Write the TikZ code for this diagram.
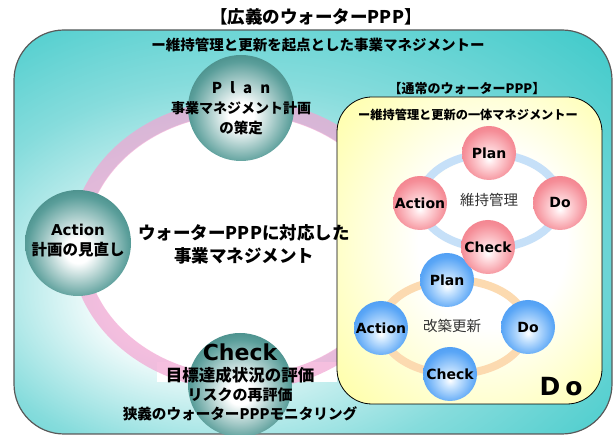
\documentclass[tikz,border=0pt]{standalone}
\usepackage{fontspec}
\setmainfont{Noto Sans CJK JP}
\newfontfamily\lat{DejaVu Sans}
\newcommand\myfs[1]{\fontsize{#1}{#1}\selectfont}
\definecolor{tealbox}{HTML}{38C8C8}
\definecolor{tealmidbg}{HTML}{86DCDC}
\definecolor{tealmid}{HTML}{5A9E9A}
\definecolor{tealdark}{HTML}{18625D}
\definecolor{pinkring}{HTML}{F2A4D2}
\definecolor{ylw}{HTML}{FFFF90}
\definecolor{redA}{HTML}{FFE0E3}
\definecolor{redB}{HTML}{F58E98}
\definecolor{redC}{HTML}{EC5868}
\definecolor{bluA}{HTML}{D0E8FF}
\definecolor{bluB}{HTML}{5AA6F6}
\definecolor{bluC}{HTML}{2680EC}
\definecolor{bluering}{HTML}{C6E0F8}
\definecolor{orangering}{HTML}{FCDAB0}
\pgfdeclareradialshading{outerbg}{\pgfpoint{-12bp}{-10bp}}{color(0bp)=(white); color(6bp)=(white); color(24bp)=(tealmidbg); color(40bp)=(tealbox); color(50bp)=(tealbox)}
\pgfdeclareradialshading{tealball}{\pgfpoint{0bp}{-4bp}}{color(0bp)=(white); color(6bp)=(white); color(24bp)=(tealmid); color(40bp)=(tealdark); color(50bp)=(tealdark)}
\pgfdeclareradialshading{redball}{\pgfpoint{0bp}{-6bp}}{color(0bp)=(white); color(6bp)=(redA); color(24bp)=(redB); color(48bp)=(redC); color(50bp)=(redC)}
\pgfdeclareradialshading{blueball}{\pgfpoint{0bp}{-6bp}}{color(0bp)=(white); color(6bp)=(bluA); color(24bp)=(bluB); color(48bp)=(bluC); color(50bp)=(bluC)}
\pgfdeclareradialshading{ybg}{\pgfpoint{6bp}{2bp}}{color(0bp)=(white); color(14bp)=(white); color(42bp)=(ylw); color(50bp)=(ylw)}
\begin{document}
\begin{tikzpicture}[x=1pt,y=-1pt,
  txt/.style={inner sep=0pt, align=center, text=black},
  tealballst/.style={circle, minimum size=106pt, inner sep=0pt, shading=tealball},
  redballst/.style={circle, minimum size=54pt, inner sep=0pt, shading=redball, font=\lat\bfseries\myfs{14}},
  blueballst/.style={circle, minimum size=54pt, inner sep=0pt, shading=blueball, font=\lat\bfseries\myfs{14}},
  ringtxt/.style={inner sep=0pt, text=black!80, font=\myfs{14.5}}]
\useasboundingbox (0,0) rectangle (614,435);
% outer box
\shadedraw[draw=black!65, line width=1.2pt, shading=outerbg, rounded corners=50pt] (14,30) rectangle (612,434);
% white text background and ring
\fill[white] (157,362) rectangle (337,382);
\fill[white] (241,245) ellipse [x radius=156, y radius=131];
\draw[pinkring, line width=15pt, draw opacity=0.7] (241,245) ellipse [x radius=163, y radius=138];
% big balls
\node[tealballst] (bplan) at (241,108) {};
\node[tealballst] (bact) at (78,243) {};
\node[tealballst, minimum size=104pt] (bchk) at (240,385) {};
\node[txt, font=\bfseries\myfs{15}] (tplan1) at (241,88) {P\hspace{8pt}l\hspace{8pt}a\hspace{8pt}n};
\node[txt, font=\bfseries\myfs{14}] (tplan2) at (241,108) {事業マネジメント計画};
\node[txt, font=\bfseries\myfs{14.5}] (tplan3) at (241,128) {の策定};
\node[txt, font=\lat\bfseries\myfs{15}] (tact1) at (78,230) {Action};
\node[txt, font=\bfseries\myfs{15.5}] (tact2) at (78,250) {計画の見直し};
\node[txt, font=\lat\bfseries\myfs{22}] (tchk1) at (240,352) {Check};
\node[txt, font=\bfseries\myfs{16.5}] (tchk2) at (240,375) {目標達成状況の評価};
\node[txt, font=\bfseries\myfs{15}] (tchk3) at (240,395) {リスクの再評価};
\node[txt, font=\bfseries\myfs{14.6}] (tchk4) at (240,414) {狭義のウォーターPPPモニタリング};
% titles
\node[txt, font=\bfseries\myfs{17.5}] (title) at (316,17) {【広義のウォーターPPP】};
\node[txt, font=\bfseries\myfs{14.5}] (sub) at (318,45) {ー維持管理と更新を起点とした事業マネジメントー};
% yellow box
\shadedraw[draw=black, line width=0.8pt, shading=ybg, rounded corners=35pt] (337,97) rectangle (602,404);
\node[txt, font=\bfseries\myfs{13}] (ytitle) at (467,89) {【通常のウォーターPPP】};
\node[txt, font=\bfseries\myfs{12.2}] (ysub) at (468,115) {ー維持管理と更新の一体マネジメントー};
% centre text
\node[txt, font=\bfseries\myfs{17.5}] (c1) at (244,233) {ウォーターPPPに対応した};
\node[txt, font=\bfseries\myfs{17.5}] (c2) at (244,256) {事業マネジメント};
% renewal cycle
\draw[orangering, line width=8pt] (454,327) ellipse [x radius=73, y radius=47];
\node[ringtxt] (kaichiku) at (452,326) {改築更新};
\node[blueballst] (bplan2) at (447,280) {Plan};
\node[blueballst] (bact2) at (381,328) {Action};
\node[blueballst] (bdo2) at (528,327) {Do};
\node[blueballst] (bchk2) at (450,374) {Check};
% maintenance cycle
\draw[bluering, line width=8pt] (490,201) ellipse [x radius=70, y radius=47];
\node[ringtxt] (iji) at (489,200) {維持管理};
\node[redballst] (rplan) at (489,153) {Plan};
\node[redballst] (ract) at (420,203) {Action};
\node[redballst] (rdo) at (560,203) {Do};
\node[redballst] (rchk) at (488,247) {Check};
% Do label
\node[txt, font=\lat\bfseries\myfs{25}] (dolabel) at (561,387) {D\hspace{5pt}o};
\end{tikzpicture}
\end{document}
